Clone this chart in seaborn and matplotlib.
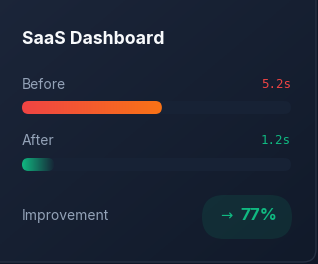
import matplotlib
matplotlib.use("Agg")
import matplotlib.pyplot as plt
import seaborn as sns
import numpy as np
import pandas as pd
from matplotlib.patches import FancyBboxPatch
from matplotlib.colors import LinearSegmentedColormap

# data
labels = ["Before", "After"]
times = [5.2, 1.2]
time_text = ["5.2s", "1.2s"]
scale_max = 10.0
improvement = "77%"
title = "SaaS Dashboard"

W, H = 318, 264
sns.set_theme(style="white")
plt.rcParams["font.family"] = ["Inter", "DejaVu Sans"]

fig = plt.figure(figsize=(W / 100, H / 100), dpi=100)
fig.patch.set_facecolor("#101727")

# background axes in pixel units
bg = fig.add_axes([0, 0, 1, 1])
bg.set_xlim(0, W)
bg.set_ylim(H, 0)
bg.axis("off")

# card with diagonal gradient
grad = np.linspace(0, 1, 200)
gx, gy = np.meshgrid(grad, grad)
card_cmap = LinearSegmentedColormap.from_list("card", ["#1c263a", "#111a2a"])
im = bg.imshow((gx * 0.5 + gy * 0.5), cmap=card_cmap, extent=(-20, 316, 262, -20),
               aspect="auto", zorder=0)
card = FancyBboxPatch((-20, -20), 336, 282, boxstyle="round,pad=0,rounding_size=13",
                      facecolor="none", edgecolor="#263042", linewidth=1.0, zorder=1)
bg.add_patch(card)
im.set_clip_path(card)

bg.text(22, 39, title, color="#f8fafc", fontsize=12.7, fontweight="bold",
        va="center", ha="left")

green = "#10b981"
label_color = "#94a3b8"
value_colors = ["#ef4444", green]
label_y = [85, 141]
track_y = [101, 158]  # top pixel of each track
track_x0, track_x1, track_h = 22, 291, 13

gradients = [
    LinearSegmentedColormap.from_list("before", ["#ef4444", "#f97316"]),
    LinearSegmentedColormap.from_list("after", [(0.063, 0.725, 0.506, 1.0),
                                                (0.063, 0.725, 0.506, 0.0)]),
]

for i, lab in enumerate(labels):
    bg.text(22, label_y[i], lab, color=label_color, fontsize=10, va="center", ha="left")
    bg.text(291, label_y[i], time_text[i], color=value_colors[i], fontsize=9,
            family="DejaVu Sans Mono", va="center", ha="right")

    ax = fig.add_axes([track_x0 / W, 1 - (track_y[i] + track_h) / H,
                       (track_x1 - track_x0) / W, track_h / H])
    ax.set_facecolor("none")
    df = pd.DataFrame({"metric": [lab], "track": [scale_max], "value": [times[i]]})
    sns.barplot(data=df, x="track", y="metric", orient="h", width=1.0,
                color="#172235", ax=ax, saturation=1)
    sns.barplot(data=df, x="value", y="metric", orient="h", width=1.0,
                color=value_colors[i], ax=ax, saturation=1)
    ax.set_xlim(0, scale_max)
    ax.set_ylim(0.5, -0.5)
    ax.axis("off")

    px_per_x = (track_x1 - track_x0) / scale_max
    r = (track_h / 2) / px_per_x
    aspect = 0.5 / r
    for p, col in zip(ax.patches, ["track", "value"]):
        x0, w = p.get_x(), p.get_width()
        y0, h = p.get_y(), p.get_height()
        rounded = FancyBboxPatch((x0, y0), w, h,
                                 boxstyle=f"round,pad=0,rounding_size={r}",
                                 mutation_aspect=aspect, transform=ax.transData,
                                 facecolor="#172235" if col == "track" else "none",
                                 edgecolor="none", zorder=2)
        ax.add_patch(rounded)
        p.set_visible(False)
        if col == "value":
            gimg = ax.imshow(np.linspace(0, 1, 256)[None, :], cmap=gradients[i],
                             extent=(x0, x0 + w, y0 + h, y0), aspect="auto", zorder=3)
            gimg.set_clip_path(rounded)
    ax.set_xlim(0, scale_max)
    ax.set_ylim(0.5, -0.5)

# improvement row
bg.text(22, 216, "Improvement", color=label_color, fontsize=10, va="center", ha="left")
pill = FancyBboxPatch((202, 195), 90, 44, boxstyle="round,pad=0,rounding_size=22",
                      facecolor=(0.063, 0.725, 0.506, 0.11), edgecolor="none", zorder=2)
bg.add_patch(pill)
bg.text(226, 216, "\u2192", color=green, fontsize=10.5, va="center", ha="center",
        family="DejaVu Sans", zorder=3)
bg.text(259, 216, improvement, color=green, fontsize=12.2, fontweight="bold",
        va="center", ha="center", zorder=3)

fig.savefig("out.png", dpi=100, facecolor=fig.get_facecolor())
